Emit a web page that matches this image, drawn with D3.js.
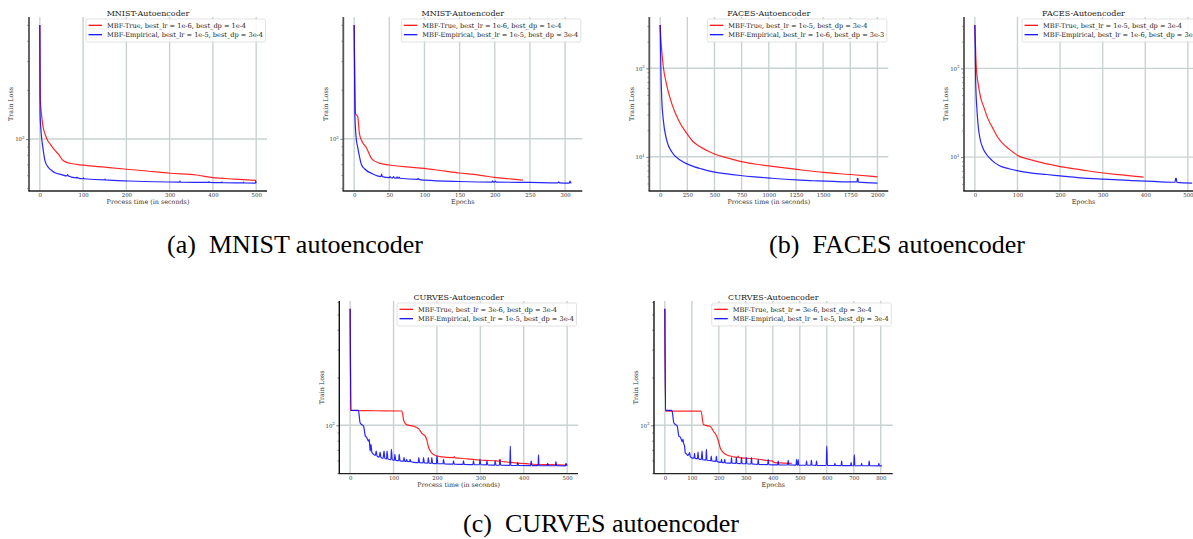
<!DOCTYPE html>
<html>
<head>
<meta charset="utf-8">
<script src="https://cdn.jsdelivr.net/npm/d3@7"></script>
<style>
  body { margin: 0; background: #fff; }
  svg { display: block; }
</style>
</head>
<body>
<svg id="fig" width="1193" height="539"></svg>
<script>
// ---- data, [x, train loss] ----
const mnistTimeTrue = [[0,500],[1,180],[4.6,136],[7.7,118],[12,107.4],[18,98],[24,93.1],[32,87],[43,80.7],[54.5,73.5],[70,71],[100.6,69.1],[150,67.2],[200.8,65.3],[247,63.7],[300.7,61.7],[362,60.2],[400,58],[450,56.8],[500,55.8]];
const mnistTimeEmp = [[0,500],[0.6,142.7],[3,110],[7,88.8],[12,73.5],[20,66.8],[28,64],[35,62.2],[50,60.5],[62,59.4],[64.6,60.5],[66,59.3],[85,57.8],[86,58.5],[87,57.8],[100,57.1],[101,57.8],[102,57.1],[150,56.2],[151,56.8],[152,56.2],[208,55.3],[323,54.5],[324,55.2],[325,54.5],[390,54.2],[391,54.8],[392,54.2],[420,54],[421,54.6],[422,54],[470,53.9],[471,54.5],[472,53.8],[498,53.7],[499,55.3],[500,53.7]];
const mnistEpochTrue = [[0,500],[2,142.7],[5.2,136],[7.5,107.4],[12,95],[17,88.8],[25,75.3],[35,71.1],[50,69.1],[75,67.2],[100,65.9],[115,64.6],[130,63.3],[150,61.7],[170,60.5],[185,59.2],[200,58],[220,56.9],[240,55.8]];
const mnistEpochEmp = [[0,500],[1,142.7],[3,100],[5,88.8],[7.5,78],[10,70.1],[15,65.3],[25,61.4],[38,58.7],[39,60.8],[40,58.6],[50,57.8],[51,58.7],[52,57.8],[55,57.6],[56,58.6],[57,57.5],[60,57.4],[61,58.4],[62,57.4],[63,57.3],[64,58.3],[65,57.3],[90,56.4],[91,57.3],[92,56.4],[100,55.8],[150,54.7],[196,54.3],[197,55.2],[198,54.3],[200,54.3],[201,55],[202,54.3],[250,54],[290,53.7],[291,54.4],[292,53.7],[306,53.5],[307,55],[308,53.6],[309,53.6]];

const facesTimeTrue = [[0,309],[5,230],[14,161],[29,104],[60,64.7],[106,40.2],[168,26],[245,18.4],[300,15],[368,13],[430,11.8],[506,10.7],[620,9.7],[737,8.87],[870,8.3],[1014,7.85],[1260,7.2],[1505,6.66],[1751,6.31],[2000,5.94]];
const facesTimeEmp = [[0,309],[6,104],[15,43.7],[29,26],[60,15.4],[106,11.4],[183,9.2],[275,8.06],[380,7.3],[490,6.76],[600,6.45],[737,6.15],[870,5.93],[1014,5.74],[1150,5.58],[1290,5.45],[1450,5.35],[1597,5.27],[1812,5.2],[1816,5.7],[1821,5.7],[1824,5.18],[2000,5.05]];
const facesEpochTrue = [[0,309],[3.4,104],[8.9,61.9],[14,46],[20.9,36.8],[30,27.5],[40.8,21.8],[52.4,17.1],[64.6,14.4],[80.5,12.3],[100.4,10.45],[128.2,9.42],[152,8.79],[180,8.2],[208,7.7],[250,7.2],[287.6,6.76],[330,6.4],[360,6.2],[396,5.94]];
const facesEpochEmp = [[0,309],[1.8,73.8],[5,33.7],[8,22],[13,15.4],[20,12.3],[28.9,10.5],[40,9.2],[56.7,8.06],[80,7.4],[104.4,6.95],[135,6.6],[168,6.37],[200,6.15],[247.7,5.85],[300,5.65],[367,5.45],[420,5.32],[470,5.21],[471,5.78],[473,5.78],[474,5.2],[510,5.1]];

const curvesTimeTrue = [[0,542],[1.5,124],[60,123.5],[119,123],[124,106],[130,101],[140,99.5],[147,98.6],[158,94.9],[166,88.7],[173,85.4],[177,80],[181,72.2],[186,68],[191,65.6],[207,63.4],[238,62.5],[240,63.4],[242,62.3],[270,61.5],[299,60.4],[320,60],[337,59.6],[344,59.4],[345,61.1],[347,59.3],[360,58.7],[391,57.6],[421,56.8],[460,56.5],[500,56.2]];
const curvesTimeEmp = [[0,542],[1.5,124.2],[19,124.2],[23,103.5],[27,101],[31,98.6],[35,85.4],[38,84],[42,79.5],[44,81.4],[46,68.8],[48,75.8],[50,67.5],[54,65.6],[58,64.5],[60,68.8],[62,64],[67,63],[69,67.8],[71,62.5],[76,62],[78,68.8],[80,61.8],[84,61.5],[85,68.8],[87,61.3],[94,60.8],[95,70.5],[97,60.6],[102,60.2],[103,65.6],[105,60.1],[112,59.8],[113,65.6],[115,59.7],[123,59.4],[124,62.5],[126,59.3],[129,59.2],[130,61.1],[132,59.1],[137,59],[138,61.1],[140,58.9],[154,58.2],[157,58.2],[158,62.5],[160,58.1],[168,58],[169,62.5],[171,57.9],[179,57.8],[180,62.5],[182,57.7],[187,57.6],[188,62.5],[190,57.6],[199,57.4],[200,64],[202,57.3],[214,57.2],[215,61.1],[217,57.1],[237,56.9],[238,59.6],[240,56.9],[260,56.7],[261,59.6],[263,56.7],[283,56.5],[284,59.6],[286,56.5],[298,56.4],[299,61.1],[301,56.4],[314,56.3],[315,59.6],[317,56.3],[333,56.1],[334,59.6],[336,56.1],[344,56],[345,60.4],[347,56],[368,55.9],[369,74],[370,55.9],[385,55.8],[386,58.2],[388,55.8],[416,55.7],[417,59.6],[419,55.7],[433,55.7],[434,65],[435,55.7],[454,55.6],[455,57.6],[457,55.6],[473,55.6],[474,59],[476,55.6],[496,55.5],[497,57.6],[500,55.5]];
const curvesEpochTrue = [[0,542],[2.5,123],[70,123],[134,123],[143,101],[155,99.5],[167.5,98.6],[175,95],[180,91.8],[192,85.4],[198,80],[205,72.2],[217,67.2],[230,65],[242,64],[260,63],[270,62.8],[272,64],[274,62.5],[300,62],[347,61.1],[380,60],[397,59.6],[407,58.2],[440,57.8],[470,57.5]];
const curvesEpochEmp = [[0,542],[2.5,124.2],[26,124.2],[33.5,103.5],[40,101],[46,98.6],[52,85.4],[58,84],[64,79],[67,81.4],[69,77.6],[73,74],[75.5,67.2],[80,66],[86,64.5],[92,67.2],[94,63.5],[98,62.5],[108,62],[110,66.5],[112,61.9],[121,61.6],[123,67.8],[125,61.5],[135,60.8],[138,68.8],[140,60.7],[152,60.3],[154,70.5],[156,60.2],[170,59.8],[172,64],[174,59.7],[189,59.3],[191,64],[193,59.2],[208,58.3],[210,61.1],[212,58.2],[220,58.1],[222,61.1],[224,58],[245,57.8],[247,62.5],[249,57.7],[263,57.6],[265,62.5],[267,57.5],[282,57.4],[284,62.5],[286,57.4],[300,57.2],[302,62.5],[304,57.2],[319,57],[321,62.5],[323,57],[333,56.8],[344,56.7],[346,61.1],[348,56.7],[381,56.5],[383,61.1],[385,56.5],[418,56.3],[420,59.6],[422,56.3],[455,56.2],[457,60.4],[459,56.2],[486,56.1],[488,61.1],[490,56.1],[492,56.1],[494,61.1],[496,56.1],[523,56],[525,59.6],[527,56],[541,56],[543,60.4],[545,56],[555,56],[560,55.9],[562,59.6],[564,55.9],[598,55.8],[600,74],[602,55.8],[628,55.8],[630,57.6],[632,55.8],[653,55.7],[655,59.6],[657,55.7],[688,55.7],[690,58.2],[692,55.7],[700,55.6],[702,65],[704,55.6],[727,55.6],[729,57.6],[731,55.6],[755,55.6],[757,59.6],[759,55.6],[791,55.5],[793,57.6],[795,55.5],[804,55.5]];

// ---- labels ----
const mnistLabels = ["MBF-True, best_lr = 1e-6, best_dp = 1e-4", "MBF-Empirical, best_lr = 1e-5, best_dp = 3e-4"];
const facesLabels = ["MBF-True, best_lr = 1e-5, best_dp = 3e-4", "MBF-Empirical, best_lr = 1e-6, best_dp = 3e-3"];
const curvesLabels = ["MBF-True, best_lr = 3e-6, best_dp = 3e-4", "MBF-Empirical, best_lr = 1e-5, best_dp = 3e-4"];
const titles = ["MNIST-Autoencoder", "FACES-Autoencoder", "CURVES-Autoencoder"];
const xLabelTime = "Process time (in seconds)";
const xLabelEpoch = "Epochs";
const yLabel = "Train Loss";
const captions = ["(a)\u00a0\u00a0MNIST autoencoder", "(b)\u00a0\u00a0FACES autoencoder", "(c)\u00a0\u00a0CURVES autoencoder"];

const ticksTime500 = [0, 100, 200, 300, 400, 500];
const ticksEpochMnist = [0, 50, 100, 150, 200, 250, 300];
const ticksTimeFaces = [0, 250, 500, 750, 1000, 1250, 1500, 1750, 2000];
const ticksEpochFaces = [0, 100, 200, 300, 400, 500];
const ticksEpochCurves = [0, 100, 200, 300, 400, 500, 600, 700, 800];

const RED = "#ff0000", BLUE = "#0000ff";
const FONT = "'DejaVu Serif', serif";
const TICK_FS = 5.4, LABEL_FS = 6.4, LEGEND_FS = 6.6, TITLE_FS = 8;

const svg = d3.select("#fig");

const panels = [
  { box: [29, 17, 238, 174], title: titles[0], xLabel: xLabelTime, xTicks: ticksTime500,
    series: [[mnistTimeTrue, RED, mnistLabels[0]], [mnistTimeEmp, BLUE, mnistLabels[1]]] },
  { box: [343.3, 17, 239, 174], title: titles[0], xLabel: xLabelEpoch, xTicks: ticksEpochMnist,
    series: [[mnistEpochTrue, RED, mnistLabels[0]], [mnistEpochEmp, BLUE, mnistLabels[1]]] },
  { box: [649.3, 17, 239, 174], title: titles[1], xLabel: xLabelTime, xTicks: ticksTimeFaces,
    series: [[facesTimeTrue, RED, facesLabels[0]], [facesTimeEmp, BLUE, facesLabels[1]]] },
  { box: [964, 17, 239, 174], title: titles[1], xLabel: xLabelEpoch, xTicks: ticksEpochFaces,
    series: [[facesEpochTrue, RED, facesLabels[0]], [facesEpochEmp, BLUE, facesLabels[1]]] },
  { box: [339.3, 301, 238.7, 172.7], title: titles[2], xLabel: xLabelTime, xTicks: ticksTime500,
    series: [[curvesTimeTrue, RED, curvesLabels[0]], [curvesTimeEmp, BLUE, curvesLabels[1]]] },
  { box: [654, 301, 238.7, 172.7], title: titles[2], xLabel: xLabelEpoch, xTicks: ticksEpochCurves,
    series: [[curvesEpochTrue, RED, curvesLabels[0]], [curvesEpochEmp, BLUE, curvesLabels[1]]] }
];

function drawPanel(p) {
  const [left, top, width, height] = p.box;
  const bottom = top + height, right = left + width;
  const g = svg.append("g");

  // matplotlib style 5% margins (log space for y)
  const all = p.series.flatMap(s => s[0]);
  const [x0, x1] = d3.extent(all, d => d[0]);
  const xp = (x1 - x0) * 0.05;
  const x = d3.scaleLinear().domain([x0 - xp, x1 + xp]).range([left, right]);
  const [y0, y1] = d3.extent(all, d => d[1]);
  const l0 = Math.log10(y0), l1 = Math.log10(y1), lp = (l1 - l0) * 0.05;
  const y = d3.scaleLog().domain([10 ** (l0 - lp), 10 ** (l1 + lp)]).range([bottom, top]);

  const [d0, d1] = y.domain();
  const majors = [], minors = [];
  for (let k = Math.floor(Math.log10(d0)); k <= Math.ceil(Math.log10(d1)); k++) {
    for (let m = 1; m < 10; m++) {
      const v = m * 10 ** k;
      if (v < d0 || v > d1) continue;
      (m === 1 ? majors : minors).push(v);
    }
  }

  // grid
  g.append("g").selectAll("line").data(p.xTicks).join("line")
    .attr("x1", d => x(d)).attr("x2", d => x(d))
    .attr("y1", top).attr("y2", bottom)
    .attr("stroke", "#c9d2d2").attr("stroke-width", 1.4);
  g.append("g").selectAll("line").data(majors).join("line")
    .attr("x1", left).attr("x2", right)
    .attr("y1", d => y(d)).attr("y2", d => y(d))
    .attr("stroke", "#c9d2d2").attr("stroke-width", 1.4);

  // lines
  const line = d3.line().curve(d3.curveMonotoneX).x(d => x(d[0])).y(d => y(d[1]));
  p.series.forEach(s => {
    g.append("path").datum(s[0])
      .attr("d", line)
      .attr("fill", "none")
      .attr("stroke", s[1])
      .attr("stroke-width", 1.2)
      .attr("stroke-opacity", 0.85)
      .attr("stroke-linejoin", "round");
  });

  // x axis
  const xa = g.append("g").attr("transform", `translate(0,${bottom})`)
    .call(d3.axisBottom(x).tickValues(p.xTicks).tickSize(0).tickPadding(2.2).tickFormat(d3.format("d")));
  xa.select(".domain").remove();
  xa.selectAll("text").attr("font-family", FONT).attr("font-size", TICK_FS).attr("fill", "#333");

  // y axis: majors with 10^k labels, minors as short ticks
  const ya = g.append("g").attr("transform", `translate(${left},0)`)
    .call(d3.axisLeft(y).tickValues(majors).tickSize(3).tickPadding(1.5).tickFormat(() => ""));
  ya.select(".domain").remove();
  ya.selectAll("line").attr("stroke", "#444").attr("stroke-width", 0.7);
  ya.selectAll("text")
    .attr("font-family", FONT).attr("font-size", TICK_FS).attr("fill", "#333")
    .each(function(d) {
      const t = d3.select(this);
      t.append("tspan").text("10");
      t.append("tspan").text(Math.round(Math.log10(d))).attr("font-size", 3.9).attr("dy", "-0.55em");
    });
  const ym = g.append("g").attr("transform", `translate(${left},0)`)
    .call(d3.axisLeft(y).tickValues(minors).tickSize(1.8).tickFormat(() => ""));
  ym.select(".domain").remove();
  ym.selectAll("line").attr("stroke", "#444").attr("stroke-width", 0.6);

  // spines
  g.append("line").attr("x1", left).attr("x2", left).attr("y1", top).attr("y2", bottom)
    .attr("stroke", top < 100 ? "#555" : "#111").attr("stroke-width", top < 100 ? 1.8 : 1.4);
  g.append("line").attr("x1", left - 0.7).attr("x2", right).attr("y1", bottom).attr("y2", bottom)
    .attr("stroke", "#222").attr("stroke-width", 1.3);

  // labels
  g.append("text").attr("x", (left + right) / 2).attr("y", top - 1)
    .attr("text-anchor", "middle").attr("font-family", FONT).attr("font-size", TITLE_FS).attr("fill", "#222")
    .text(p.title);
  g.append("text").attr("x", (left + right) / 2).attr("y", bottom + 13.3)
    .attr("text-anchor", "middle").attr("font-family", FONT).attr("font-size", LABEL_FS).attr("fill", "#333")
    .text(p.xLabel);
  g.append("text").attr("transform", `translate(${left - 15.7},${(top + bottom) / 2}) rotate(-90)`)
    .attr("text-anchor", "middle").attr("font-family", FONT).attr("font-size", LABEL_FS).attr("fill", "#333")
    .text(yLabel);

  // legend, upper right
  const by = top + 2;
  const lg = g.append("g");
  const texts = p.series.map((s, i) => lg.append("text")
    .attr("font-family", FONT).attr("font-size", LEGEND_FS).attr("fill", "#222")
    .attr("y", by + 6.3 + 2.3 + i * 9.4).text(s[2]));
  const tw = d3.max(texts, t => t.node().getComputedTextLength());
  const bw = tw + 23.5, bx = right - 1.5 - bw;
  lg.insert("rect", "text").attr("x", bx).attr("y", by).attr("width", bw).attr("height", 23)
    .attr("rx", 1.5).attr("fill", "#fff").attr("fill-opacity", 0.85)
    .attr("stroke", "#d6d6d6").attr("stroke-width", 0.7);
  texts.forEach(t => t.attr("x", bx + 21));
  p.series.forEach((s, i) => {
    lg.append("line").attr("x1", bx + 2.5).attr("x2", bx + 16)
      .attr("y1", by + 6.3 + i * 9.4).attr("y2", by + 6.3 + i * 9.4)
      .attr("stroke", s[1]).attr("stroke-width", 1.2);
  });
}

panels.forEach(drawPanel);

// sub-figure captions
const capPos = [[295, 253], [897, 253], [601, 532]];
svg.selectAll("text.cap").data(captions).join("text")
  .attr("class", "cap")
  .attr("x", (d, i) => capPos[i][0]).attr("y", (d, i) => capPos[i][1])
  .attr("text-anchor", "middle")
  .attr("font-family", "'Liberation Serif', Tinos, 'Times New Roman', serif")
  .attr("font-size", 26).attr("fill", "#000")
  .text(d => d);
</script>
</body>
</html>
